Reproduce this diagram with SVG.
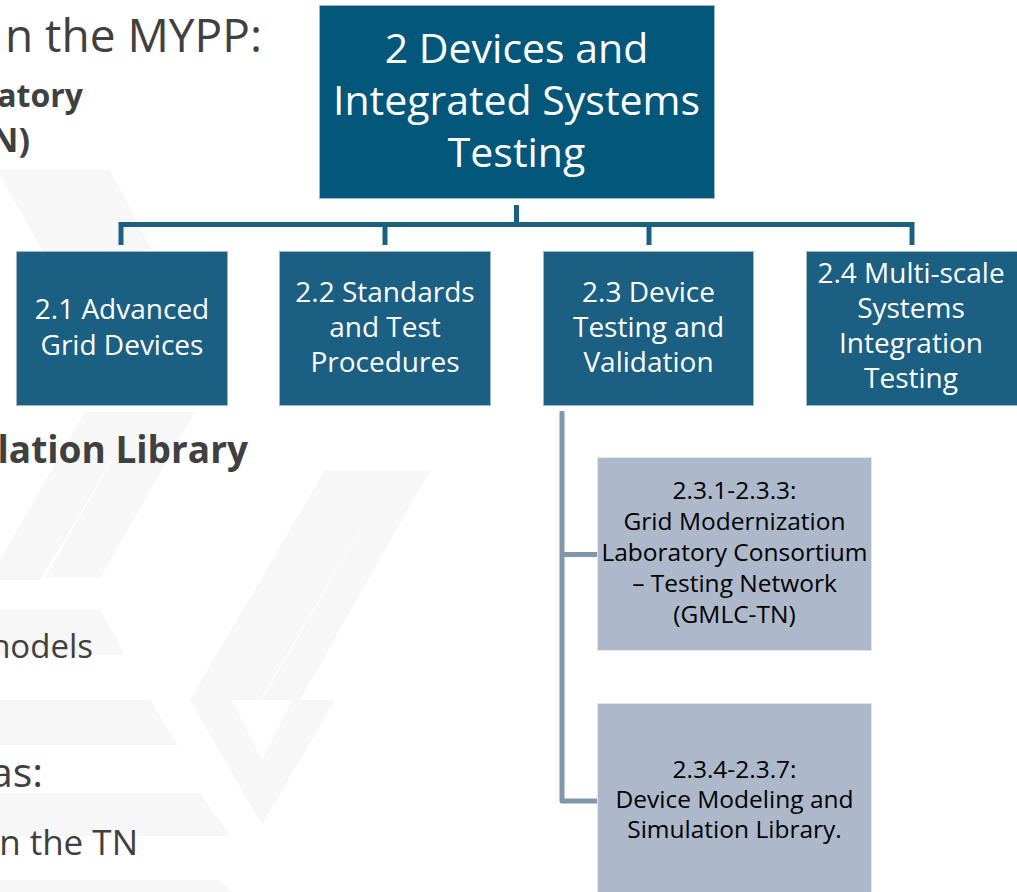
<svg xmlns="http://www.w3.org/2000/svg" width="1017" height="892" viewBox="0 0 1017 892">
<style>
.bg{fill:#F7F7F7}
.lt{font-family:"Open Sans","Noto Sans",sans-serif;fill:#404040}
.b{font-weight:bold}
.top{fill:#02577A;stroke:#9fb8c8;stroke-width:1}
.sub{fill:#1B6083;stroke:#9fb8c8;stroke-width:1}
.gry{fill:#ADB9CA;stroke:#dfe4ea;stroke-width:1}
.wt{font-family:"Open Sans","Noto Sans",sans-serif;fill:#ffffff;text-anchor:middle}
.bt{font-family:"Open Sans","Noto Sans",sans-serif;fill:#000000;text-anchor:middle;font-size:24.5px}
.c1{stroke:#1B6083;stroke-width:5;fill:none}
.c2{stroke:#8096AA;stroke-width:5;fill:none;stroke-linejoin:round}
</style>
<rect width="1017" height="892" fill="#ffffff"/>
<g id="watermark">
<polygon class="bg" points="0,170 60,170 175,380 115,380 0,175"/>
<polygon class="bg" points="50,170 110,170 230,400 170,400"/>
<polygon class="bg" points="85,412 140,412 40,580 0,580 0,560"/>
<polygon class="bg" points="140,412 195,412 100,578 45,578"/>
<polygon class="bg" points="325,470 395,470 260,700 190,700"/>
<polygon class="bg" points="0,610 100,610 125,655 0,655"/>
<polygon class="bg" points="0,700 150,700 178,745 0,745"/>
<polygon class="bg" points="0,793 200,793 230,836 0,836"/>
<polygon class="bg" points="0,880 220,880 232,892 0,892"/>
<polygon class="bg" points="190,700 232,700 262,760 292,700 335,700 262,825"/>
<polygon class="bg" points="395,470 430,470 300,700 262,700"/>
</g>
<g id="side-text">
<text class="lt" x="262" y="52" font-size="46" text-anchor="end">n the MYPP:</text>
<text class="lt b" x="83" y="107" font-size="32" text-anchor="end">atory</text>
<text class="lt b" x="30" y="152" font-size="34" text-anchor="end">N)</text>
<text class="lt b" x="248" y="463" font-size="37" text-anchor="end">lation Library</text>
<text class="lt" x="93" y="658" font-size="33" text-anchor="end">nodels</text>
<text class="lt" x="43" y="787" font-size="41" text-anchor="end">as:</text>
<text class="lt" x="138" y="855" font-size="35" text-anchor="end">n the TN</text>
</g>
<g id="connectors">
<line class="c1" x1="516.5" y1="205" x2="516.5" y2="224"/>
<polyline class="c1" points="121,245 121,224.5 912,224.5 912,245"/>
<line class="c1" x1="385" y1="224" x2="385" y2="245"/>
<line class="c1" x1="649" y1="224" x2="649" y2="245"/>
<polyline class="c2" points="562,411 562,801 597,801"/>
<line class="c2" x1="562" y1="554.5" x2="597" y2="554.5"/>
</g>
<g id="n2">
<rect class="top" x="319.5" y="5.5" width="395" height="193"/>
<text class="wt" font-size="41"><tspan x="516.5" y="63">2 Devices and</tspan><tspan x="516.5" y="115">Integrated Systems</tspan><tspan x="516.5" y="167">Testing</tspan></text>
</g>
<g id="n2-1">
<rect class="sub" x="16.5" y="251.5" width="211" height="154"/>
<text class="wt" font-size="28"><tspan x="122" y="319">2.1 Advanced</tspan><tspan x="122" y="355">Grid Devices</tspan></text>
</g>
<g id="n2-2">
<rect class="sub" x="279.5" y="251.5" width="211" height="154"/>
<text class="wt" font-size="28"><tspan x="385" y="302">2.2 Standards</tspan><tspan x="385" y="337">and Test</tspan><tspan x="385" y="372">Procedures</tspan></text>
</g>
<g id="n2-3">
<rect class="sub" x="543.5" y="251.5" width="210" height="154"/>
<text class="wt" font-size="28"><tspan x="648.5" y="302">2.3 Device</tspan><tspan x="648.5" y="337">Testing and</tspan><tspan x="648.5" y="372">Validation</tspan></text>
</g>
<g id="n2-4">
<rect class="sub" x="806.5" y="251.5" width="212" height="154"/>
<text class="wt" font-size="28"><tspan x="911" y="283">2.4 Multi-scale</tspan><tspan x="911" y="318">Systems</tspan><tspan x="911" y="353">Integration</tspan><tspan x="911" y="388">Testing</tspan></text>
</g>
<g id="n2-3-1">
<rect class="gry" x="597.5" y="457.5" width="274" height="193"/>
<text class="bt"><tspan x="734.5" y="499">2.3.1-2.3.3:</tspan><tspan x="734.5" y="530">Grid Modernization</tspan><tspan x="734.5" y="561">Laboratory Consortium</tspan><tspan x="734.5" y="592">– Testing Network</tspan><tspan x="734.5" y="623">(GMLC-TN)</tspan></text>
</g>
<g id="n2-3-4">
<rect class="gry" x="597.5" y="703.5" width="274" height="200"/>
<text class="bt"><tspan x="734.5" y="778">2.3.4-2.3.7:</tspan><tspan x="734.5" y="808">Device Modeling and</tspan><tspan x="734.5" y="838">Simulation Library.</tspan></text>
</g>
</svg>
